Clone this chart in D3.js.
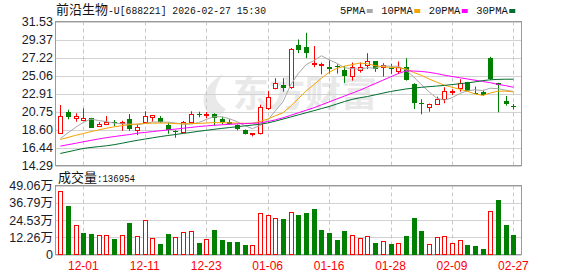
<!DOCTYPE html>
<html>
<head>
<meta charset="utf-8">
<script src="https://cdn.jsdelivr.net/npm/d3@7"></script>
<style>
  body { margin: 0; background: #fff; }
  svg { display: block; font-family: "Liberation Sans", Arial, "Noto Sans CJK SC", sans-serif; }
</style>
</head>
<body>
<div id="chart"></div>
<script>
// Trading days shown in the window
const dates = [
  "11-26", "11-27", "11-28", "12-01", "12-02", "12-03", "12-04", "12-05", "12-08", "12-09",
  "12-10", "12-11", "12-12", "12-15", "12-16", "12-17", "12-18", "12-19", "12-22", "12-23",
  "12-24", "12-25", "12-26", "12-29", "12-30", "12-31", "01-05", "01-06", "01-07", "01-08",
  "01-09", "01-12", "01-13", "01-14", "01-15", "01-16", "01-19", "01-20", "01-21", "01-22",
  "01-23", "01-26", "01-27", "01-28", "01-29", "01-30", "02-02", "02-03", "02-04", "02-05",
  "02-06", "02-09", "02-10", "02-11", "02-12", "02-13", "02-24", "02-25", "02-26", "02-27"
];

const openPrices = [
  18.13, 20.69, 19.94, 19.77, 19.97, 18.98, 19.29, 19.49, 19.41, 19.82,
  18.53, 19.46, 20.13, 20.01, 19.17, 18.45, 18.33, 19.53, 20.45, 20.30,
  20.45, 19.82, 19.49, 19.10, 18.53, 18.05, 18.13, 21.14, 23.61, 23.94,
  23.66, 28.66, 28.50, 26.46, 26.40, 26.10, 26.20, 25.74, 25.02, 25.74,
  26.34, 26.78, 26.06, 25.95, 25.61, 26.06, 24.06, 21.72, 21.33, 21.69,
  22.29, 23.18, 23.54, 24.26, 23.00, 23.06, 27.18, 24.14, 22.05, 21.40
];
const highPrices = [
  21.53, 20.97, 20.54, 21.14, 20.00, 19.49, 20.21, 19.73, 19.65, 20.45,
  19.25, 20.78, 20.30, 20.21, 19.46, 18.50, 19.61, 20.78, 20.73, 20.69,
  20.54, 20.13, 19.82, 19.20, 18.61, 18.13, 21.57, 23.22, 24.74, 24.74,
  28.35, 29.38, 30.18, 28.60, 26.60, 26.90, 26.40, 26.20, 26.62, 26.62,
  27.74, 26.80, 26.54, 26.46, 26.74, 27.14, 24.14, 22.22, 21.70, 22.53,
  23.66, 23.42, 24.62, 24.30, 23.73, 23.34, 27.30, 24.20, 22.62, 21.65
];
const lowPrices = [
  18.13, 19.82, 19.53, 19.77, 18.80, 18.89, 19.22, 19.01, 18.45, 18.45,
  17.93, 19.34, 19.53, 19.40, 18.09, 17.61, 18.21, 19.41, 20.06, 19.94,
  19.05, 19.22, 19.20, 18.50, 18.00, 17.77, 18.01, 20.93, 23.42, 23.13,
  23.46, 27.74, 27.14, 26.06, 25.20, 25.30, 25.30, 24.18, 24.45, 25.41,
  25.83, 25.50, 24.94, 25.26, 25.26, 24.45, 21.05, 20.42, 20.73, 21.53,
  21.74, 22.74, 23.13, 23.20, 22.85, 22.62, 24.50, 20.66, 21.46, 21.00
];
const closePrices = [
  20.21, 20.06, 20.25, 19.94, 18.81, 19.29, 19.46, 19.37, 19.53, 18.61,
  18.86, 20.21, 20.30, 19.49, 18.53, 18.37, 19.46, 20.42, 20.30, 20.45,
  20.01, 19.46, 19.22, 18.61, 18.09, 18.13, 21.33, 22.46, 24.14, 23.54,
  28.26, 28.14, 27.70, 26.55, 26.50, 25.80, 26.10, 25.02, 26.06, 26.06,
  26.78, 25.80, 26.38, 25.85, 26.06, 24.54, 21.74, 21.65, 21.65, 22.22,
  23.22, 23.25, 24.14, 23.26, 22.93, 22.74, 24.62, 23.90, 21.65, 21.33
];

// Volume in 万 (10k shares) and whether the bar is drawn red (1) or green (0)
const volumes = [
  45.4, 34.2, 21.0, 15.5, 14.8, 13.9, 13.9, 11.2, 13.9, 22.7,
  13.1, 24.6, 11.7, 7.6, 14.8, 12.4, 16.0, 16.7, 8.4, 11.0,
  17.7, 10.5, 9.1, 9.1, 6.9, 6.7, 29.6, 28.2, 26.0, 24.9,
  30.3, 28.4, 29.2, 32.0, 17.7, 15.5, 10.5, 17.0, 13.9, 11.7,
  13.1, 8.4, 9.6, 7.6, 8.1, 13.4, 26.3, 17.0, 7.4, 12.4,
  13.1, 8.1, 10.3, 6.9, 6.2, 4.1, 31.1, 38.5, 21.3, 13.7
];
const volumeRise = [
  1, 0, 1, 0, 0, 1, 1, 0, 1, 0,
  1, 1, 1, 0, 0, 1, 1, 1, 0, 1,
  0, 0, 0, 0, 0, 1, 1, 1, 1, 0,
  1, 0, 0, 0, 0, 0, 0, 0, 1, 1,
  1, 0, 1, 0, 1, 0, 0, 0, 1, 1,
  1, 1, 1, 0, 0, 0, 1, 0, 0, 0
];
const lastVolume = 136954;

// Moving averages as drawn
const ma5 = [
  17.53, 18.20, 18.86, 19.46, 19.85, 19.67, 19.55, 19.37, 19.29, 19.25,
  19.17, 19.32, 19.50, 19.49, 19.48, 19.38, 19.23, 19.25, 19.42, 19.80,
  20.13, 20.13, 19.89, 19.55, 19.08, 18.70, 19.08, 19.72, 20.83, 21.92,
  23.95, 25.31, 26.36, 26.84, 27.43, 26.94, 26.53, 25.99, 25.90, 25.81,
  26.00, 25.94, 26.22, 26.17, 26.17, 25.73, 24.91, 23.97, 23.13, 22.36,
  22.10, 22.40, 22.90, 23.22, 23.36, 23.26, 23.54, 23.49, 23.30, 23.15
];
const ma10 = [
  17.41, 17.65, 17.90, 18.12, 18.35, 18.55, 18.75, 18.92, 19.06, 19.18,
  19.26, 19.32, 19.36, 19.37, 19.37, 19.30, 19.28, 19.30, 19.33, 19.38,
  19.42, 19.42, 19.40, 19.36, 19.34, 19.34, 19.55, 19.85, 20.25, 20.60,
  21.40, 22.30, 23.20, 23.95, 24.75, 25.44, 25.92, 26.18, 26.37, 26.55,
  26.47, 26.24, 26.11, 26.04, 25.99, 25.87, 25.43, 25.09, 24.65, 24.27,
  23.91, 23.66, 23.43, 23.17, 22.86, 22.68, 22.97, 23.19, 23.19, 23.10
];
const ma20 = [
  16.61, 16.78, 16.95, 17.13, 17.30, 17.47, 17.62, 17.75, 17.88, 17.99,
  18.15, 18.25, 18.35, 18.45, 18.55, 18.65, 18.75, 18.85, 18.95, 19.03,
  19.10, 19.16, 19.22, 19.27, 19.31, 19.35, 19.38, 19.55, 19.75, 20.00,
  20.30, 20.60, 20.90, 21.20, 21.55, 21.90, 22.25, 22.60, 22.95, 23.30,
  23.70, 24.10, 24.50, 24.90, 25.30, 25.60, 25.60, 25.55, 25.45, 25.30,
  25.10, 24.95, 24.80, 24.65, 24.50, 24.35, 24.20, 24.00, 23.85, 23.66
];
const ma30 = [
  15.73, 15.93, 16.13, 16.33, 16.45, 16.55, 16.65, 16.78, 16.95, 17.13,
  17.30, 17.45, 17.60, 17.75, 17.88, 18.00, 18.13, 18.25, 18.38, 18.50,
  18.62, 18.73, 18.83, 18.93, 19.03, 19.13, 19.23, 19.38, 19.60, 19.85,
  20.10, 20.35, 20.60, 20.85, 21.10, 21.35, 21.65, 21.95, 22.20, 22.40,
  22.55, 22.75, 22.95, 23.15, 23.30, 23.45, 23.55, 23.65, 23.73, 23.80,
  23.88, 23.98, 24.08, 24.18, 24.30, 24.45, 24.55, 24.60, 24.62, 24.62
];

// Axis labels
const priceTicks = [14.29, 16.44, 18.60, 20.75, 22.91, 25.06, 27.22, 29.37, 31.53];
const volumeTicks = [0, 12.26, 24.53, 36.79, 49.06];
const dateTicks = ["12-01", "12-11", "12-23", "01-06", "01-16", "01-28", "02-09", "02-27"];
const maNames = ["5PMA", "10PMA", "20PMA", "30PMA"];

const drawKChart = () => {

  /*******************************/
  /*    Declare the constants    */
  /*******************************/
  const width = 578;
  const height = 276;
  const left = 55.5;
  const right = 521.5;
  const priceTop = 21.5;
  const priceBottom = 165.5;
  const volumeTop = 185.5;
  const volumeBottom = 254.5;
  const upColor = "#ff0000";
  const downColor = "#008000";
  const gridColor = "#d2d2d2";
  const frameColor = "#9a9a9a";
  const labelColor = "#1a1a2a";
  const maColors = ["#a8a8a8", "#f5a300", "#ff00ff", "#006e2e"];
  const maSeries = [ma5, ma10, ma20, ma30];


  /*******************************/
  /*    Append the containers    */
  /*******************************/
  const svg = d3.select("#chart")
    .append("svg")
      .attr("width", width)
      .attr("height", height)
      .attr("viewBox", `0 0 ${width} ${height}`);


  /****************************/
  /*    Declare the scales    */
  /****************************/
  const xScale = d3.scalePoint()
    .domain(dates)
    .range([60.3, 513.4]);

  const yScale = d3.scaleLinear()
    .domain([priceTicks[0], priceTicks[priceTicks.length - 1]])
    .range([priceBottom, priceTop]);

  const vScale = d3.scaleLinear()
    .domain([0, volumeTicks[volumeTicks.length - 1]])
    .range([volumeBottom, volumeTop]);

  const cx = d => Math.round(xScale(d));


  /*******************************/
  /*    Grid, frame and axes     */
  /*******************************/
  // Watermark behind everything
  const mark = svg.append("g").attr("fill", "#e9e9e9");
  mark.append("path")
    .attr("d", "M214,117 C199,104 201,87 223,74 C213,89 212,101 226,109 C223,113 219,116 214,117 Z");
  mark.append("path")
    .attr("d", "M207,112 C200,100 204,90 214,82 C208,93 208,103 212,112 Z");
  mark.append("text")
    .text("东方财富")
    .attr("x", 233)
    .attr("y", 107)
    .style("font-family", "'Noto Sans CJK SC'")
    .style("font-weight", "bold")
    .style("font-size", "36px");

  // Horizontal price grid
  svg.append("g")
    .selectAll("line")
    .data(priceTicks)
    .join("line")
      .attr("x1", left)
      .attr("x2", right)
      .attr("y1", d => Math.round(yScale(d)) + 0.5)
      .attr("y2", d => Math.round(yScale(d)) + 0.5)
      .attr("stroke", gridColor);

  // Horizontal volume grid
  svg.append("g")
    .selectAll("line")
    .data(volumeTicks)
    .join("line")
      .attr("x1", left)
      .attr("x2", right)
      .attr("y1", d => Math.round(vScale(d)) + 0.5)
      .attr("y2", d => Math.round(vScale(d)) + 0.5)
      .attr("stroke", gridColor);

  // Dashed verticals on the date ticks, in both panels
  [[priceTop, priceBottom], [volumeTop, volumeBottom]].forEach(([y0, y1]) => {
    svg.append("g")
      .selectAll("line")
      .data(dateTicks)
      .join("line")
        .attr("x1", d => cx(d) + 0.5)
        .attr("x2", d => cx(d) + 0.5)
        .attr("y1", y0)
        .attr("y2", y1)
        .attr("stroke", "#c8c8c8")
        .attr("stroke-dasharray", "4,3");
  });

  // Frames
  [[priceTop, priceBottom], [volumeTop, volumeBottom]].forEach(([y0, y1]) => {
    svg.append("rect")
      .attr("x", left)
      .attr("y", y0)
      .attr("width", right - left)
      .attr("height", y1 - y0)
      .attr("fill", "none")
      .attr("stroke", frameColor);
  });

  // Price labels
  svg.append("g")
    .selectAll("text")
    .data(priceTicks)
    .join("text")
      .text(d => d.toFixed(2))
      .attr("x", 53)
      .attr("y", d => yScale(d))
      .attr("dy", "0.36em")
      .attr("text-anchor", "end")
      .attr("fill", labelColor)
      .style("font-size", "12.5px");

  // Volume labels
  svg.append("g")
    .selectAll("text")
    .data(volumeTicks)
    .join("text")
      .text(d => d === 0 ? "0" : `${d.toFixed(2)}万`)
      .attr("x", 53)
      .attr("y", d => vScale(d))
      .attr("dy", "0.36em")
      .attr("text-anchor", "end")
      .attr("fill", labelColor)
      .style("font-size", "12.5px");

  // Date labels
  svg.append("g")
    .selectAll("text")
    .data(dateTicks)
    .join("text")
      .text(d => d)
      .attr("x", d => xScale(d))
      .attr("y", 270)
      .attr("text-anchor", "middle")
      .attr("fill", upColor)
      .style("font-size", "12px");


  /********************************/
  /*    Append the candlesticks   */
  /********************************/
  const candles = dates.map((d, i) => ({
    date: d,
    open: openPrices[i],
    high: highPrices[i],
    low: lowPrices[i],
    close: closePrices[i],
    volume: volumes[i],
    volumeUp: volumeRise[i] === 1
  }));

  const candle = svg.append("g")
    .selectAll("g")
    .data(candles)
    .join("g");

  candle.append("line")
    .attr("x1", d => cx(d.date) + 0.5)
    .attr("x2", d => cx(d.date) + 0.5)
    .attr("y1", d => yScale(d.high))
    .attr("y2", d => yScale(d.low))
    .attr("stroke", d => d.close >= d.open ? upColor : downColor);

  candle.append("rect")
    .each(function(d) {
      const up = d.close >= d.open;
      const top = Math.round(yScale(Math.max(d.open, d.close)));
      const bottom = Math.round(yScale(Math.min(d.open, d.close)));
      const h = Math.max(bottom - top, 1);
      d3.select(this)
        .attr("x", up ? cx(d.date) - 1.5 : cx(d.date) - 2)
        .attr("y", up ? top + 0.5 : top)
        .attr("width", up ? 4 : 5)
        .attr("height", h)
        .attr("fill", up ? "#ffffff" : downColor)
        .attr("stroke", up ? upColor : "none");
    });


  /********************************/
  /*    Append the volume bars    */
  /********************************/
  svg.append("g")
    .selectAll("rect")
    .data(candles)
    .join("rect")
      .each(function(d) {
        const top = Math.round(vScale(d.volume));
        const bottom = Math.round(volumeBottom);
        d3.select(this)
          .attr("x", d.volumeUp ? cx(d.date) - 1.5 : cx(d.date) - 2)
          .attr("y", d.volumeUp ? top + 0.5 : top)
          .attr("width", d.volumeUp ? 4 : 5)
          .attr("height", d.volumeUp ? bottom - top - 1 : bottom - top)
          .attr("fill", d.volumeUp ? "#ffffff" : downColor)
          .attr("stroke", d.volumeUp ? upColor : "none");
      });


  /********************************/
  /*    Append the moving lines   */
  /********************************/
  const lineGenerator = d3.line()
    .x((d, i) => xScale(dates[i]))
    .y(d => yScale(d));

  svg.append("g")
    .selectAll("path")
    .data(maSeries)
    .join("path")
      .attr("d", d => lineGenerator(d))
      .attr("fill", "none")
      .attr("stroke", (d, i) => maColors[i])
      .attr("stroke-width", 1);


  /********************************/
  /*    Title, legend, labels     */
  /********************************/
  svg.append("text")
    .text("前沿生物")
    .attr("x", 56)
    .attr("y", 14)
    .attr("fill", "#111")
    .style("font-family", "'Noto Sans CJK SC'")
    .style("font-size", "13px");

  svg.append("text")
    .text("-U[688221] 2026-02-27 15:30")
    .attr("x", 108)
    .attr("y", 14)
    .attr("fill", "#111")
    .attr("textLength", 158)
    .attr("lengthAdjust", "spacingAndGlyphs")
    .style("font-family", "'Liberation Mono'")
    .style("font-size", "11.5px");

  // Legend: label then a coloured square
  let legendX = 340;
  maNames.forEach((name, i) => {
    const label = svg.append("text")
      .text(name)
      .attr("x", legendX)
      .attr("y", 14)
      .attr("fill", "#111")
      .style("font-family", "'Liberation Mono'")
      .style("font-size", "10.5px");
    const squareX = legendX + label.node().getComputedTextLength() + 1.5;
    svg.append("rect")
      .attr("x", squareX)
      .attr("y", 9)
      .attr("width", 6)
      .attr("height", 4)
      .attr("fill", maColors[i]);
    legendX = squareX + 14.5;
  });

  // Volume caption
  svg.append("text")
    .text("成交量")
    .attr("x", 58)
    .attr("y", 182)
    .attr("fill", "#111")
    .style("font-family", "'Noto Sans CJK SC'")
    .style("font-size", "13px");

  svg.append("text")
    .text(`:${lastVolume}`)
    .attr("x", 97)
    .attr("y", 182)
    .attr("fill", "#111")
    .attr("textLength", 38)
    .attr("lengthAdjust", "spacingAndGlyphs")
    .style("font-family", "'Liberation Mono'")
    .style("font-size", "11.5px");

};

drawKChart();
</script>
</body>
</html>
